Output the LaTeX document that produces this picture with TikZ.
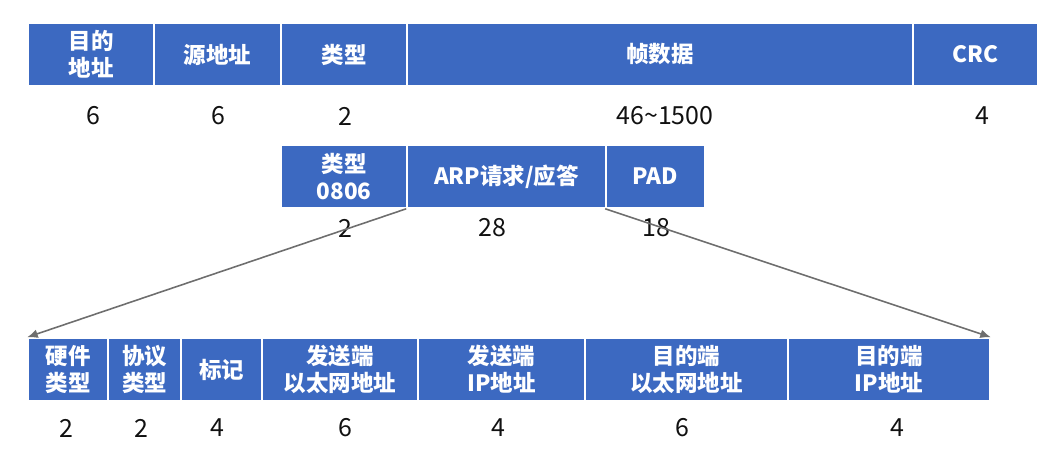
\documentclass[tikz,border=0pt]{standalone}
\usepackage{fontspec}
\setmainfont{Noto Sans CJK SC}
\usetikzlibrary{arrows.meta}
\definecolor{fieldblue}{HTML}{3C69C1}
\definecolor{linkgray}{HTML}{6E6E6E}
\definecolor{numink}{HTML}{111111}

\begin{document}
\begin{tikzpicture}[x=0.02cm, y=-0.02cm,
    field/.style={draw=white, line width=0.9pt, fill=fieldblue, text=white, inner sep=0pt,
      align=center, font=\fontsize{12.8}{15.3}\selectfont\bfseries, minimum height=63*0.02cm},
    num/.style={text=numink, inner sep=0pt, font=\fontsize{14.2}{16}\selectfont},
    link/.style={linkgray, line width=0.9pt, -{Latex[length=6pt, width=5pt]}}]
  \useasboundingbox (0, 0) rectangle (1055, 458);
  % Ethernet frame
  \foreach \l/\r/\t/\n/\nx [count=\i] in {28/154/{目的\\地址}/6/93, 154/281/源地址/6/218,
      281/407/类型/2/345, 407/913/帧数据/46\textasciitilde 1500/665, 913/1038/CRC/4/982}
    {\node[field, minimum width={(\r-\l)*0.02cm}] (frame\i) at ({(\l+\r)/2}, 54.5) {\t};
     \node[num] (framelen\i) at (\nx, 116) {\n};}
  % frame data for ARP
  \foreach \l/\r/\t/\n/\nx [count=\i] in {281/407/{类型\\0806}/2/345, 407/606/{ARP请求/应答}/28/492,
      606/705/PAD/18/656}
    {\node[field, minimum width={(\r-\l)*0.02cm}] (data\i) at ({(\l+\r)/2}, 176.5) {\t};
     \node[num] (datalen\i) at (\nx, 228) {\n};}
  % ARP packet
  \foreach \l/\r/\t/\n/\nx [count=\i] in {28/108/{硬件\\类型}/2/66, 108/181/{协议\\类型}/2/141,
      181/262/标记/4/217, 262/418/{发送端\\以太网地址}/6/345, 418/585/{发送端\\IP地址}/4/498,
      585/788/{目的端\\以太网地址}/6/682, 788/990/{目的端\\IP地址}/4/897}
    {\node[field, minimum width={(\r-\l)*0.02cm}] (arp\i) at ({(\l+\r)/2}, 369.5) {\t};
     \node[num] (arplen\i) at (\nx, 428) {\n};}
  \draw[link] (data2.south west) -- (arp1.north west);
  \draw[link] (data3.south west) -- (arp7.north east);
\end{tikzpicture}
\end{document}
